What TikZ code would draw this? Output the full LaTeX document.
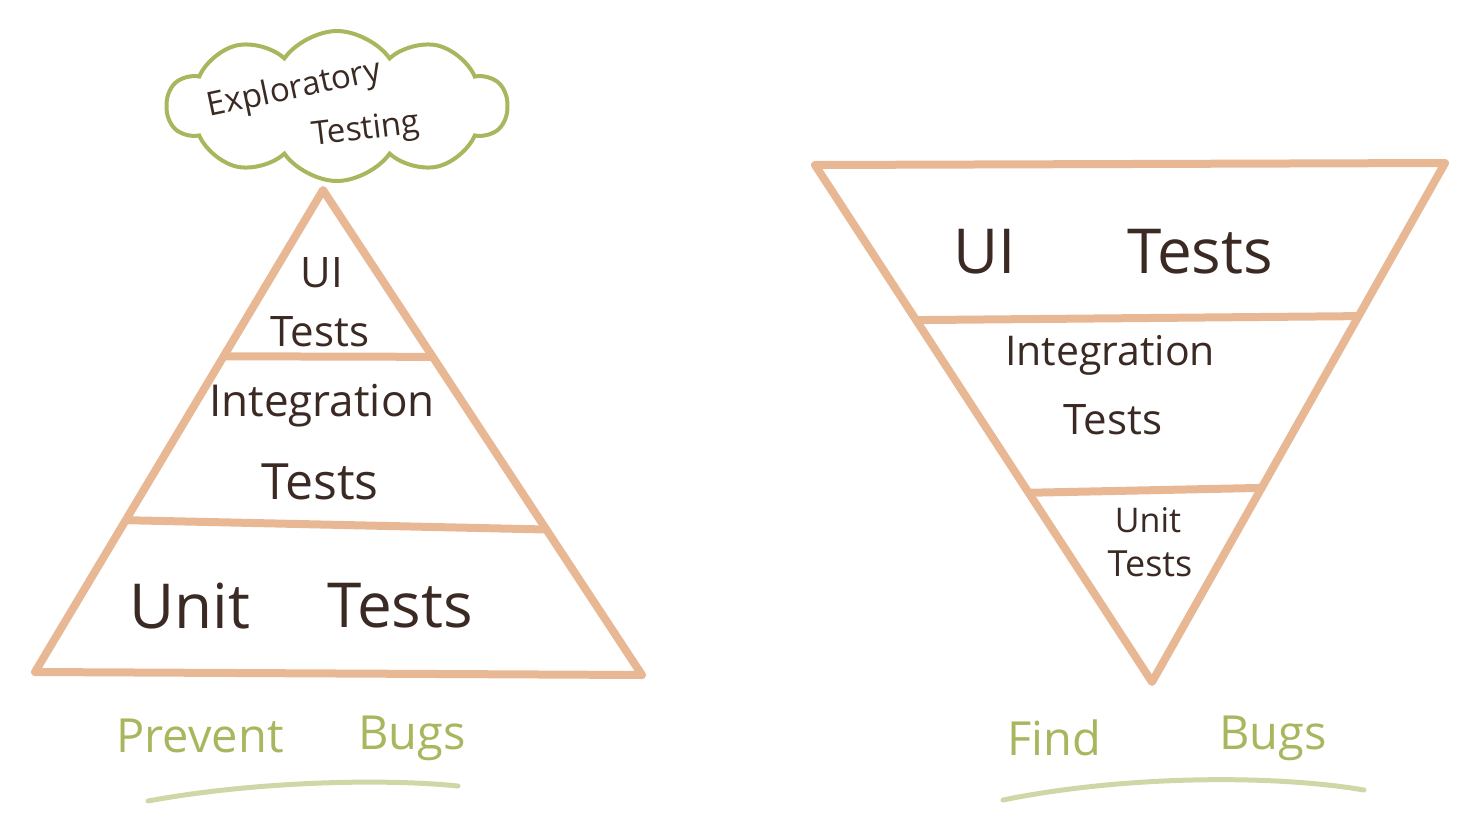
\documentclass[tikz,border=0pt]{standalone}
\usepackage{fontspec}
\setmainfont{Open Sans}
\usetikzlibrary{calc}
\usetikzlibrary{shapes.symbols}
\usetikzlibrary{positioning}
\definecolor{peach}{HTML}{E8B894}
\definecolor{olive}{HTML}{A9B65E}
\definecolor{ink}{HTML}{3B2A24}
\tikzset{layer/.style = {draw = peach, line width = 8, line join = round, line cap = round}}
\tikzset{label/.style = {text = ink, inner sep = 0}}
\tikzset{motto/.style = {text = olive, inner sep = 0, font = \fontsize{47}{47}\selectfont}}
\tikzset{brush/.style = {draw = olive, line width = 5, line cap = round, opacity = 0.55}}
\newcommand{\fs}[1]{\fontsize{#1}{#1}\selectfont}

\begin{document}
\begin{tikzpicture}[x=1pt, y=-1pt]
    \useasboundingbox (0, 0) rectangle (1459, 820);

    % pyramid
    \coordinate (pt) at (323, 190);
    \coordinate (pr) at (642, 675);
    \coordinate (pl) at (35, 672);
    \draw [layer] (pt) -- (pr) -- (pl) -- cycle;
    \draw [layer] ($(pt)!0.345!(pl)$) -- ($(pt)!0.344!(pr)$);
    \draw [layer] ($(pt)!0.685!(pl)$) -- ($(pt)!0.700!(pr)$);

    \node [label, font = \fs{42}] (pui) at (322, 273) {UI};
    \node [label, font = \fs{42}] (puit) at (320, 332) {Tests};
    \node [label, font = \fs{44}] (pint) at (322, 406) {Integration};
    \node [label, font = \fs{50}] (pintt) at (320, 482) {Tests};
    \node [label, font = \fs{62}] (punit) at (190, 606) {Unit};
    \node [label, font = \fs{62}] (punitt) at (400, 606) {Tests};

    % cloud on top
    \node [cloud, draw = olive, line width = 4, cloud puffs = 10, cloud puff arc = 110,
           aspect = 2.6, minimum width = 340, minimum height = 150] (cloud) at (337, 106) {};
    \node [label, font = \fs{33}, rotate = 12] (expl) at (294, 90) {Exploratory};
    \node [label, font = \fs{33}, rotate = 7] (test) at (366, 131) {Testing};

    % funnel
    \coordinate (fl) at (815, 165);
    \coordinate (fr) at (1445, 163);
    \coordinate (fb) at (1152, 682);
    \draw [layer] (fl) -- (fr) -- (fb) -- cycle;
    \draw [layer] ($(fl)!0.300!(fb)$) -- ($(fr)!0.295!(fb)$);
    \draw [layer] ($(fl)!0.634!(fb)$) -- ($(fr)!0.626!(fb)$);

    \node [label, font = \fs{62}] (fui) at (985, 252) {UI};
    \node [label, font = \fs{62}] (fuit) at (1200, 252) {Tests};
    \node [label, font = \fs{41}] (fint) at (1110, 355) {Integration};
    \node [label, font = \fs{42}] (fintt) at (1113, 420) {Tests};
    \node [label, font = \fs{34}] (funit) at (1148, 520) {Unit};
    \node [label, font = \fs{36}] (funitt) at (1150, 564) {Tests};

    % mottos
    \node [motto] (prev) at (200, 736) {Prevent};
    \node [motto] (pbug) at (412, 738) {Bugs};
    \draw [brush] (148, 801) .. controls (250, 782) and (380, 778) .. (458, 786);
    \node [motto] (find) at (1054, 738) {Find};
    \node [motto] (fbug) at (1273, 738) {Bugs};
    \draw [brush] (1003, 800) .. controls (1120, 776) and (1270, 774) .. (1364, 790);
\end{tikzpicture}
\end{document}
